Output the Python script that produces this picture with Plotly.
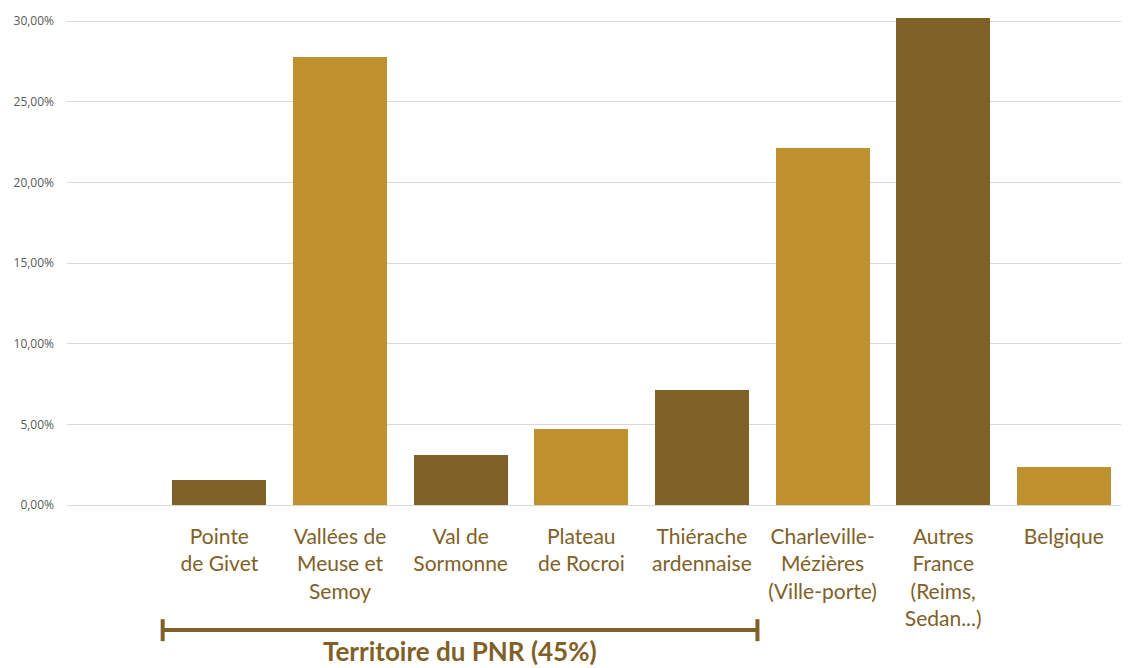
import plotly.graph_objects as go

categories = [
    "Pointe<br>de Givet",
    "Vallées de<br>Meuse et<br>Semoy",
    "Val de<br>Sormonne",
    "Plateau<br>de Rocroi",
    "Thiérache<br>ardennaise",
    "Charleville-<br>Mézières<br>(Ville-porte)",
    "Autres<br>France<br>(Reims,<br>Sedan...)",
    "Belgique",
]
values = [0.0154, 0.2775, 0.0310, 0.0472, 0.0713, 0.2215, 0.3020, 0.0235]
bar_colors = ["#7F6128", "#BF912E", "#7F6128", "#BF912E", "#7F6128", "#BF912E", "#7F6128", "#BF912E"]
y_ticks = [0, 0.05, 0.10, 0.15, 0.20, 0.25, 0.30]
bracket_label = "<b>Territoire du PNR (45%)</b>"
bracket_first, bracket_last = 1, 5

DARK = "#7F6128"
positions = list(range(1, len(categories) + 1))

fig = go.Figure()
fig.add_trace(go.Bar(
    x=positions, y=values, marker_color=bar_colors, width=0.78,
    marker_line_width=0, hoverinfo="skip",
))

bx0 = bracket_first - 0.47
bx1 = bracket_last + 0.46
yb = -0.2560
fig.add_shape(type="line", xref="x", yref="paper", x0=bx0, x1=bx1, y0=yb, y1=yb,
              line=dict(color=DARK, width=4))
for xx in (bx0, bx1):
    fig.add_shape(type="line", xref="x", yref="paper", x0=xx, x1=xx, y0=yb + 0.022, y1=yb - 0.023,
                  line=dict(color=DARK, width=4))
fig.add_annotation(x=(bx0 + bx1) / 2, xref="x", y=-0.300, yref="paper", text=bracket_label,
                   showarrow=False, yanchor="middle",
                   font=dict(family="Lato", size=26, color=DARK))

fig.update_layout(
    width=1129, height=668,
    margin=dict(l=59, r=8, t=4, b=171),
    plot_bgcolor="white", paper_bgcolor="white",
    separators=", ",
    showlegend=False,
    bargap=0,
)
fig.update_xaxes(
    range=[-0.263, 8.54], tickvals=positions, ticktext=categories,
    showgrid=False, zeroline=False, showline=False, ticks="",
    tickfont=dict(family="Lato", size=21, color=DARK),
    ticklabelstandoff=17,
)
fig.update_yaxes(
    range=[0, 0.3025], tickvals=y_ticks, tickformat=".2%",
    showgrid=True, gridcolor="#D9D9D9", gridwidth=1,
    zeroline=True, zerolinecolor="#D9D9D9", zerolinewidth=1,
    tickfont=dict(family="Open Sans", size=12, color="#595959"),
    ticklabelstandoff=12, ticks="", ticklabeloverflow="allow",
)

fig.write_html("out.html")
